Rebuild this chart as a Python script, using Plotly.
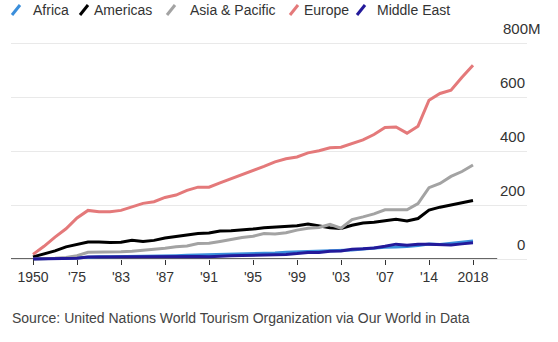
import plotly.graph_objects as go

# International tourist arrivals by region, millions
years = [1950, 1960, 1965, 1970, 1975,
         1980, 1981, 1982, 1983, 1984, 1985, 1986, 1987, 1988, 1989,
         1990, 1991, 1992, 1993, 1994, 1995, 1996, 1997, 1998, 1999,
         2000, 2001, 2002, 2003, 2004, 2005, 2006, 2007, 2008, 2009, 2010,
         2014, 2015, 2016, 2017, 2018]

africa = [0.5, 0.8, 1.4, 2.4, 4.7,
          7.2, 8.0, 8.0, 8.5, 9.0, 9.7, 9.5, 10.2, 12.5, 13.8,
          14.7, 15.6, 17.6, 18.5, 18.9, 18.8, 21.5, 22.5, 24.6, 26.1,
          26.2, 28.3, 29.5, 30.7, 33.3, 36.8, 40.9, 43.3, 44.4, 45.9, 50.2,
          55.7, 53.5, 57.8, 62.7, 67.1]

americas = [8, 19, 30, 45, 55,
            63, 63, 61, 62, 69, 65, 69, 78, 83, 88,
            94, 96, 104, 105, 107, 111, 116, 118, 120, 123,
            130, 123, 116, 113, 125, 133, 136, 142, 147, 141, 150,
            181, 192, 200, 208, 217]

asia_pacific = [0.2, 1, 3, 6, 12,
                25, 25, 26, 27, 29, 32, 35, 40, 45, 48,
                57, 58, 65, 73, 80, 84, 94, 93, 97, 107,
                114, 117, 128, 114, 146, 156, 167, 182, 183, 182, 205,
                264, 280, 306, 324, 348]

europe = [17, 47, 81, 112, 152,
          180, 175, 175, 180, 194, 206, 212, 228, 237, 254,
          266, 266, 282, 297, 312, 327, 343, 360, 371, 378,
          393, 401, 412, 414, 428, 441, 461, 487, 489, 466, 492,
          588, 613, 625, 673, 718]

middle_east = [0.2, 0.6, 1.0, 1.9, 3.0,
               7.0, 7.5, 7.7, 8.0, 8.5, 8.0, 8.5, 8.7, 9.5, 9.9,
               9.6, 8.5, 11, 12, 13, 13.7, 15, 16, 17, 20,
               24, 24.5, 29, 30, 36, 38, 41, 47, 55, 51, 55,
               55, 54, 52, 56, 60]

series = [
    ("Africa", africa, "#3a8edb"),
    ("Americas", americas, "#000000"),
    ("Asia & Pacific", asia_pacific, "#a3a3a3"),
    ("Europe", europe, "#e4797a"),
    ("Middle East", middle_east, "#23199a"),
]

tick_years = [1950, 1975, 1983, 1987, 1991, 1995, 1999, 2003, 2007, 2014, 2018]
tick_text = ["1950", "'75", "'83", "'87", "'91", "'95", "'99", "'03", "'07", "'14", "2018"]
y_ticks = [0, 200, 400, 600, 800]
y_tick_text = ["0", "200", "400", "600", "800M"]

W, H = 558, 342
ML, MR, MT, MB = 11, 31, 30, 77
PW, PH = W - ML - MR, H - MT - MB
ZERO_PX = 259           # pixel row of the zero line
PX_PER_UNIT = 0.27      # vertical pixels per million arrivals
FONT = "Liberation Sans, Arial, Helvetica, sans-serif"


def px_x(p):
    return (p - ML) / PW


def px_y(p):
    return (H - MB - p) / PH


cats = [str(y) for y in years]

fig = go.Figure()
for name, vals, color in series:
    fig.add_trace(go.Scatter(
        x=cats, y=vals, name=name, mode="lines",
        line=dict(color=color, width=3),
        hoverinfo="skip", showlegend=False,
    ))

y_lo = -(H - MB - ZERO_PX) / PX_PER_UNIT
y_hi = (ZERO_PX - MT) / PX_PER_UNIT
x_lo = -2.0
x_hi = x_lo + PW / 11.0

fig.update_layout(
    width=W, height=H,
    margin=dict(l=ML, r=MR, t=MT, b=MB),
    paper_bgcolor="white", plot_bgcolor="white",
    font=dict(family=FONT, color="#333333"),
    xaxis=dict(
        type="category", categoryorder="array", categoryarray=cats,
        range=[x_lo, x_hi],
        tickmode="array", tickvals=[str(t) for t in tick_years], ticktext=tick_text,
        ticks="outside", ticklen=5, tickwidth=1, tickcolor="#333333",
        tickfont=dict(size=14, color="#333333"),
        showgrid=False, showline=False, zeroline=False,
        anchor="free", position=px_y(ZERO_PX),
    ),
    yaxis=dict(
        range=[y_lo, y_hi],
        tickmode="array", tickvals=y_ticks,
        showticklabels=False, ticks="",
        showgrid=True, gridcolor="#e9e9e9", gridwidth=1,
        zeroline=False, showline=False,
    ),
)

# dark baseline at zero
fig.add_shape(type="line", xref="x", yref="y",
              x0=x_lo, x1=42.2, y0=0, y1=0,
              line=dict(color="#333333", width=1.5), layer="below")

# value labels above each gridline, right of the plot; the unit suffix
# on the top label hangs past the right edge of the number column
for v, label in zip(y_ticks, y_tick_text):
    if label.endswith("M"):
        pos = dict(x=px_x(501), xanchor="left")
    else:
        pos = dict(x=1.0, xanchor="right")
    fig.add_annotation(xref="paper", yref="y", y=v,
                       text=label, showarrow=False,
                       yanchor="middle", yshift=14.5,
                       font=dict(size=15, color="#333333"), **pos)

# legend row across the top
legend_icon_x = [12, 80, 167, 290, 357]
legend_text_x = [31, 92, 188, 302, 375]
for (name, _, color), ix, tx in zip(series, legend_icon_x, legend_text_x):
    fig.add_shape(type="line", xref="paper", yref="paper",
                  x0=px_x(ix), y0=px_y(15), x1=px_x(ix + 8), y1=px_y(5),
                  line=dict(color=color, width=3))
    fig.add_annotation(xref="paper", yref="paper", x=px_x(tx), y=px_y(10),
                       text=name, showarrow=False,
                       xanchor="left", yanchor="middle",
                       font=dict(size=14, color="#333333"))

fig.add_annotation(xref="paper", yref="paper", x=px_x(10), y=px_y(318),
                   text="Source: United Nations World Tourism Organization via Our World in Data",
                   showarrow=False, xanchor="left", yanchor="middle",
                   font=dict(size=14, color="#444444"))

fig.write_html("out.html")
